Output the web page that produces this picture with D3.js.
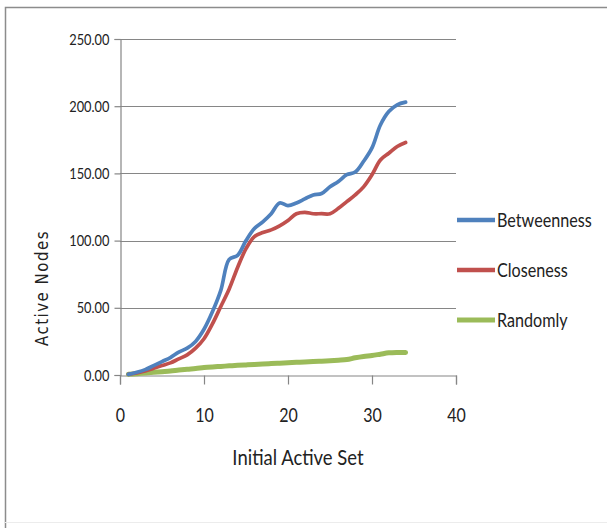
<!DOCTYPE html>
<html>
<head>
<meta charset="utf-8">
<script src="https://cdn.jsdelivr.net/npm/d3@7/dist/d3.min.js"></script>
<style>
  html, body { margin: 0; padding: 0; background: #fff; }
  svg { display: block; }
</style>
</head>
<body>
<svg id="chart" width="607" height="528"></svg>
<script>
// Initial active set size (x) and resulting number of active nodes per strategy
const initialSet = d3.range(1, 35);
const betweenness = [0.5, 2, 4, 7, 10, 13, 17, 20, 25, 34, 47, 63, 86, 89, 100, 109, 114, 120, 128, 126,
                     128, 131, 134, 135, 140, 144, 149, 151, 159, 169, 186, 196, 201, 203];
const closeness   = [0.5, 1.5, 3, 5, 7, 9, 12, 15, 20, 27, 38, 51, 64, 80, 94, 103, 106, 108, 111, 115,
                     120, 121, 120, 120, 120, 124, 129, 134, 140, 149, 160, 165, 170, 173];
const randomly    = [0.5, 1, 1.5, 2, 2.5, 3, 3.7, 4.3, 4.8, 5.5, 6, 6.4, 6.8, 7.2, 7.5, 7.8, 8.2, 8.5, 8.8, 9.1,
                     9.4, 9.7, 10, 10.3, 10.6, 11, 11.5, 12.8, 13.8, 14.5, 15.5, 16.5, 16.8, 16.8];

const seriesNames = ["Betweenness", "Closeness", "Randomly"];
const seriesColors = ["#4F81BD", "#C0504D", "#9BBB59"];
const xTicks = [0, 10, 20, 30, 40];
const yTicks = [0, 50, 100, 150, 200, 250];

const labelFont = "Lato, 'Open Sans', sans-serif";
const svg = d3.select("#chart");

// chart frame
svg.append("path")
  .attr("d", "M5.5,528 V7.5 H607")
  .attr("fill", "none").attr("stroke", "#8c8c8c").attr("stroke-width", 1.5);
svg.append("line")
  .attr("x1", 5).attr("x2", 607).attr("y1", 522.5).attr("y2", 522.5)
  .attr("stroke", "#ececec").attr("stroke-width", 1);

const x = d3.scaleLinear().domain([0, 40]).range([120, 456]);
const y = d3.scaleLinear().domain([0, 250]).range([375, 39]);

// horizontal gridlines
svg.append("g").selectAll("line").data(yTicks.filter(d => d > 0)).join("line")
  .attr("x1", x(0)).attr("x2", x(40))
  .attr("y1", d => Math.round(y(d)) + 0.5).attr("y2", d => Math.round(y(d)) + 0.5)
  .attr("stroke", "#868686").attr("stroke-width", 1.2);

// y axis
const yAxis = svg.append("g")
  .attr("transform", `translate(${x(0) + 0.5},0)`)
  .call(d3.axisLeft(y).tickValues(yTicks).tickSize(6).tickPadding(8)
    .tickFormat(d3.format(".2f")));
yAxis.select(".domain").attr("stroke", "#868686").attr("stroke-width", 1.2);
yAxis.selectAll(".tick line").attr("stroke", "#868686").attr("stroke-width", 1.2);
yAxis.selectAll(".tick text")
  .attr("font-family", labelFont)
  .attr("font-size", 16).attr("transform", "scale(0.8,1)").attr("fill", "#222");

// x axis
const xAxis = svg.append("g")
  .attr("transform", `translate(0,${Math.round(y(0)) + 0.5})`)
  .call(d3.axisBottom(x).tickValues(xTicks).tickSize(9));
xAxis.select(".domain").attr("stroke", "#868686").attr("stroke-width", 1.2);
xAxis.selectAll(".tick line").attr("stroke", "#868686").attr("stroke-width", 1.2);
xAxis.selectAll(".tick text")
  .attr("y", 47).attr("dy", null)
  .attr("font-family", labelFont)
  .attr("font-size", 20).attr("transform", "scale(0.8,1)").attr("fill", "#222");

// axis titles
svg.append("text")
  .attr("transform", "translate(48,288) rotate(-90) scale(1,1.2)")
  .attr("text-anchor", "middle")
  .attr("font-family", "'DejaVu Sans', sans-serif")
  .attr("font-size", 15).attr("letter-spacing", 1.5).attr("fill", "#222")
  .text("Active Nodes");

svg.append("text")
  .attr("transform", "translate(298,465) scale(0.88,1)")
  .attr("text-anchor", "middle")
  .attr("font-family", labelFont)
  .attr("font-size", 21).attr("fill", "#222")
  .text("Initial Active Set");

// series lines
const line = d3.line()
  .x((d, i) => x(initialSet[i]))
  .y(d => y(d))
  .curve(d3.curveCatmullRom.alpha(0.5));

const seriesData = [betweenness, closeness, randomly];
const widths = [3.7, 3.7, 5];
// draw the random series first so the others sit on top of it
[2, 1, 0].forEach(k => {
  svg.append("path")
    .datum(seriesData[k])
    .attr("d", line)
    .attr("fill", "none")
    .attr("stroke", seriesColors[k])
    .attr("stroke-width", widths[k])
    .attr("stroke-linejoin", "round")
    .attr("stroke-linecap", "round");
});

// legend
const legend = svg.append("g");
seriesNames.forEach((name, k) => {
  const cy = 220 + k * 50;
  legend.append("line")
    .attr("x1", 457).attr("x2", 495).attr("y1", cy).attr("y2", cy)
    .attr("stroke", seriesColors[k]).attr("stroke-width", widths[k] === 5 ? 5 : 4.5);
  legend.append("text")
    .attr("transform", `translate(497,${cy + 7}) scale(0.85,1)`)
    .attr("font-family", labelFont)
    .attr("font-size", 19).attr("fill", "#222")
    .text(name);
});
</script>
</body>
</html>
